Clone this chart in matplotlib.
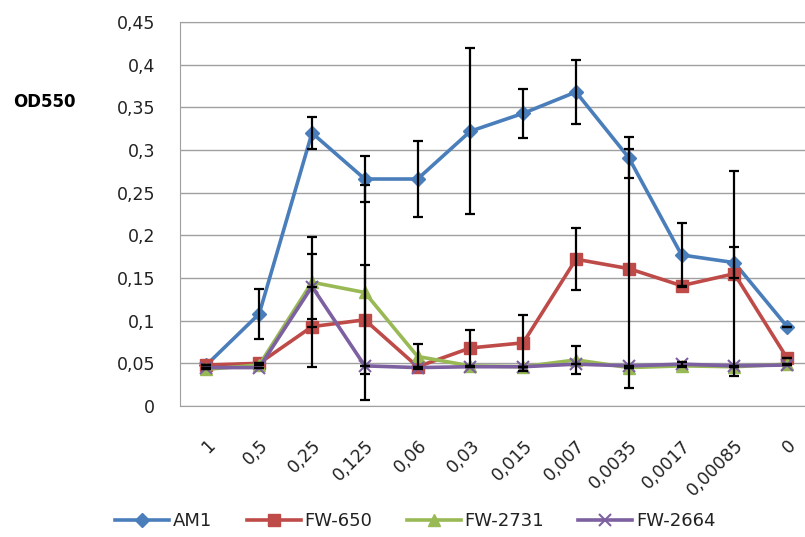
import numpy as np
import matplotlib
matplotlib.use("Agg")
import matplotlib.pyplot as plt
from matplotlib.ticker import FuncFormatter

concentrations = ["1", "0,5", "0,25", "0,125", "0,06", "0,03", "0,015",
                  "0,007", "0,0035", "0,0017", "0,00085", "0"]

am1 = [0.048, 0.108, 0.320, 0.266, 0.266, 0.322, 0.343, 0.368, 0.291, 0.177, 0.168, 0.093]
am1_err = [0.0, 0.029, 0.019, 0.027, 0.045, 0.097, 0.029, 0.037, 0.024, 0.038, 0.018, 0.0]

fw650 = [0.048, 0.050, 0.093, 0.101, 0.046, 0.068, 0.074, 0.172, 0.161, 0.141, 0.155, 0.056]
fw650_err = [0.0, 0.0, 0.047, 0.064, 0.0, 0.021, 0.033, 0.036, 0.140, 0.0, 0.120, 0.0]

fw2731 = [0.043, 0.048, 0.145, 0.133, 0.058, 0.047, 0.046, 0.054, 0.045, 0.047, 0.046, 0.049]
fw2731_err = [0.0, 0.0, 0.053, 0.126, 0.015, 0.0, 0.0, 0.016, 0.0, 0.0, 0.0, 0.0]

fw2664 = [0.045, 0.045, 0.140, 0.047, 0.045, 0.046, 0.046, 0.049, 0.047, 0.049, 0.047, 0.048]
fw2664_err = [0.0, 0.0, 0.038, 0.0, 0.0, 0.0, 0.0, 0.0, 0.0, 0.003, 0.0, 0.0]

series = [
    ("AM1", am1, am1_err, "#4A7EBB", "D", 7),
    ("FW-650", fw650, fw650_err, "#BE4B48", "s", 9),
    ("FW-2731", fw2731, fw2731_err, "#98B954", "^", 8),
    ("FW-2664", fw2664, fw2664_err, "#7D60A0", "x", 8),
]

plt.rcParams["font.family"] = ["DejaVu Sans"]

fig = plt.figure(figsize=(8.05, 5.37), dpi=100)
ax = fig.add_axes([0.2236, 0.244, 0.787, 0.715])

x = np.arange(len(concentrations))
for name, vals, err, color, marker, ms in series:
    ax.plot(x, vals, color=color, lw=2.6, marker=marker, markersize=ms,
            markeredgecolor=color, markeredgewidth=1.5 if marker == "x" else 1,
            label=name, zorder=3)
    ax.errorbar(x, vals, yerr=err, fmt="none", ecolor="black",
                elinewidth=1.6, capsize=3.5, capthick=1.6, zorder=4)

ax.set_xlim(-0.5, 11.5)
ax.set_ylim(0, 0.45)
ax.set_yticks(np.arange(0, 0.451, 0.05))
ax.yaxis.set_major_formatter(FuncFormatter(
    lambda v, _: ("%g" % round(v, 2)).replace(".", ",")))
ax.grid(axis="y", color="#A0A0A0", lw=1)
ax.set_axisbelow(True)
ax.tick_params(axis="y", length=0, labelsize=12.5, pad=18, labelcolor="#222222")
ax.tick_params(axis="x", length=0, labelsize=12.5, pad=22, labelcolor="#222222")
ax.set_xticks(x)
ax.set_xticklabels(concentrations, rotation=45, ha="right",
                   rotation_mode="anchor")
for sp in ax.spines.values():
    sp.set_color("#A0A0A0")

fig.text(0.016, 0.80, "OD550", fontsize=12, fontweight="bold")

fig.legend(loc="lower center", bbox_to_anchor=(0.516, -0.018), ncol=4,
           frameon=False, fontsize=13, handlelength=3.0, handletextpad=0.2,
           columnspacing=1.9, labelcolor="#222222")

fig.savefig("out.png", dpi=100)
